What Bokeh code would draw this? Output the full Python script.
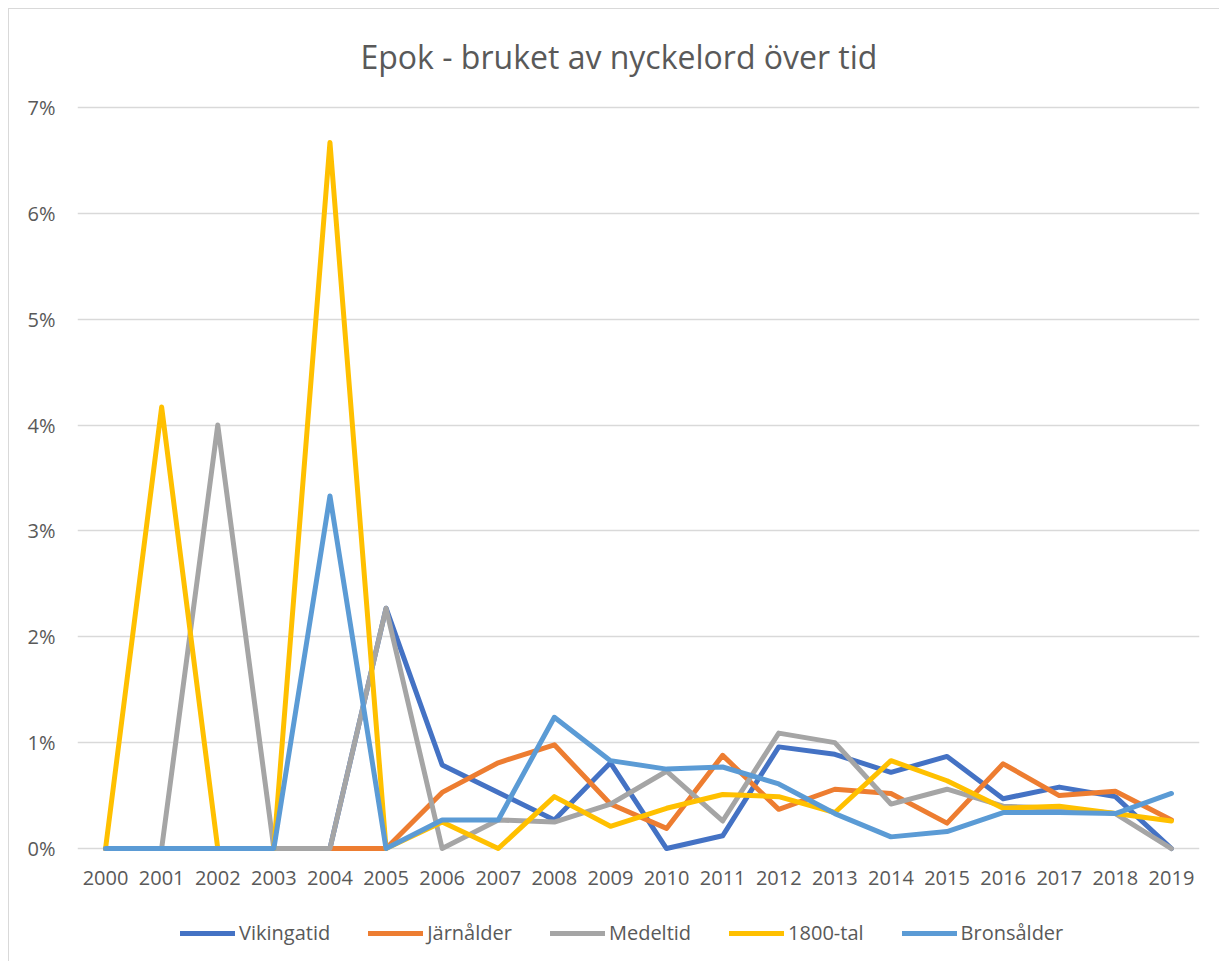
from bokeh.plotting import figure
from bokeh.layouts import column
from bokeh.models import (FixedTicker, PrintfTickFormatter, Legend, LegendItem,
                          Range1d, FactorRange, Title)
from bokeh.embed import file_html
from bokeh.resources import INLINE

years = [str(y) for y in range(2000, 2020)]
series_names = ["Vikingatid", "Järnålder", "Medeltid", "1800-tal", "Bronsålder"]
colors = ["#4472C4", "#ED7D31", "#A5A5A5", "#FFC000", "#5B9BD5"]

vikingatid = [0, 0, 0, 0, 0, 2.27, 0.79, 0.53, 0.27, 0.81, 0, 0.12, 0.96, 0.89, 0.72, 0.87, 0.47, 0.58, 0.49, 0]
jarnalder = [0, 0, 0, 0, 0, 0, 0.53, 0.81, 0.98, 0.42, 0.19, 0.88, 0.37, 0.56, 0.52, 0.24, 0.80, 0.50, 0.54, 0.27]
medeltid = [0, 0, 4.0, 0, 0, 2.27, 0, 0.27, 0.25, 0.42, 0.73, 0.26, 1.09, 1.0, 0.42, 0.56, 0.40, 0.38, 0.33, 0]
tal1800 = [0, 4.17, 0, 0, 6.67, 0, 0.25, 0, 0.49, 0.21, 0.38, 0.51, 0.49, 0.34, 0.83, 0.64, 0.38, 0.40, 0.33, 0.26]
bronsalder = [0, 0, 0, 0, 3.33, 0, 0.27, 0.27, 1.24, 0.83, 0.75, 0.77, 0.61, 0.33, 0.11, 0.16, 0.34, 0.34, 0.33, 0.52]
y_ticks = [0, 1, 2, 3, 4, 5, 6, 7]

all_series = [vikingatid, jarnalder, medeltid, tal1800, bronsalder]

TXT = "#595959"
FONT = "Open Sans"

# main chart
p = figure(width=1210, height=900, output_backend="svg", toolbar_location=None,
           x_range=FactorRange(factors=years, range_padding=0),
           y_range=Range1d(-0.066, 7.066))
p.title = Title(text="Epok - bruket av nyckelord över tid", align="left",
                text_font=FONT, text_font_size="32px", text_font_style="normal",
                text_color=TXT, standoff=46, offset=283)
p.min_border_left = 68
p.min_border_right = 20
p.min_border_top = 91
p.min_border_bottom = 54
p.outline_line_color = None
p.background_fill_color = "white"
p.border_fill_color = "white"

p.xgrid.grid_line_color = None
p.ygrid.grid_line_color = "#D9D9D9"
p.ygrid.grid_line_width = 1.3
p.yaxis.ticker = FixedTicker(ticks=y_ticks)
p.yaxis.formatter = PrintfTickFormatter(format="%d%%")

for ax in (p.xaxis, p.yaxis):
    ax.axis_line_color = None
    ax.major_tick_line_color = None
    ax.minor_tick_line_color = None
    ax.major_tick_out = 0
    ax.major_tick_in = 0
    ax.major_label_text_font = FONT
    ax.major_label_text_font_size = "20px"
    ax.major_label_text_color = TXT
p.yaxis.major_label_standoff = 22
p.xaxis.major_label_standoff = 15

for col, vals in zip(colors, all_series):
    p.line(years, vals, line_color=col, line_width=5,
           line_cap="round", line_join="round")

# legend strip (same series, drawn out of view so only the legend shows)
q = figure(width=1210, height=52, output_backend="svg", toolbar_location=None,
           x_range=FactorRange(factors=years), y_range=Range1d(100, 101),
           x_axis_location=None, y_axis_location=None)
q.min_border_left = 0
q.min_border_right = 0
q.min_border_top = 0
q.min_border_bottom = 0
q.outline_line_color = None
q.grid.visible = False
q.border_fill_color = "white"
q.background_fill_color = "white"

items = []
for name, col, vals in zip(series_names, colors, all_series):
    r = q.line(years, vals, line_color=col, line_width=5,
               line_cap="round", line_join="round")
    items.append(LegendItem(label=name, renderers=[r]))

legend = Legend(items=items, orientation="horizontal", location=(103, 15),
                glyph_width=55, glyph_height=20, label_standoff=4, spacing=38,
                padding=0, margin=0, border_line_color=None,
                background_fill_alpha=0,
                label_text_font=FONT, label_text_font_size="20px",
                label_text_color=TXT)
q.add_layout(legend, "center")

page = column(p, q, spacing=0)
page.styles = {"margin-left": "8px", "margin-top": "8px",
               "border-left": "1px solid #D9D9D9", "border-top": "1px solid #D9D9D9"}

open("out.html", "w").write(file_html(page, INLINE))
